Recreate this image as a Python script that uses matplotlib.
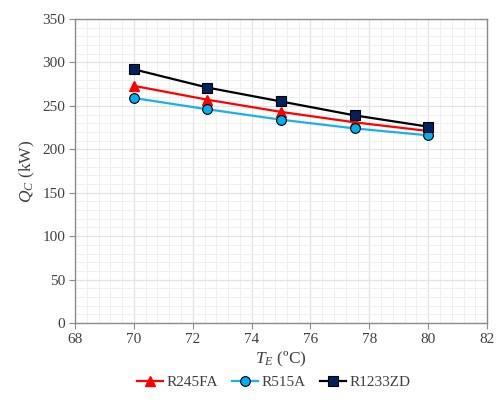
import matplotlib
matplotlib.use("Agg")
import matplotlib.pyplot as plt
from matplotlib.ticker import MultipleLocator

plt.rcParams['font.family'] = ['Liberation Serif', 'DejaVu Serif']
plt.rcParams['mathtext.fontset'] = 'custom'
plt.rcParams['mathtext.rm'] = 'Liberation Serif'
plt.rcParams['mathtext.it'] = 'Liberation Serif:italic'

T_E = [70, 72.5, 75, 77.5, 80]
R245FA = [273, 257, 243, 231, 221]
R515A = [259, 246, 234, 224, 216]
R1233ZD = [292, 271, 255, 239, 226]

fig = plt.figure(figsize=(4.97, 4.03), dpi=100)
ax = fig.add_axes([0.151, 0.1985, 0.829, 0.7545])

ax.plot(T_E, R245FA, color='#ff0000', lw=1.6, marker='^', ms=7,
        mfc='#ff0000', mec='#ff0000', label='R245FA', zorder=3)
ax.plot(T_E, R515A, color='#1ab0f0', lw=1.6, marker='o', ms=7,
        mfc='#00b0f0', mec='#000000', mew=0.8, label='R515A', zorder=3)
ax.plot(T_E, R1233ZD, color='#000000', lw=1.6, marker='s', ms=7,
        mfc='#002060', mec='#000000', mew=0.8, label='R1233ZD', zorder=4)

ax.set_xlim(68, 82)
ax.set_ylim(0, 350)
ax.xaxis.set_major_locator(MultipleLocator(2))
ax.xaxis.set_minor_locator(MultipleLocator(0.4))
ax.yaxis.set_major_locator(MultipleLocator(50))
ax.yaxis.set_minor_locator(MultipleLocator(10))
ax.grid(which='major', color='#e3e3e3', lw=0.9, zorder=0)
ax.grid(which='minor', color='#f0f0f0', lw=0.7, zorder=0)
ax.set_axisbelow(True)
for s in ax.spines.values():
    s.set_color('#8c8c8c')
    s.set_linewidth(1.0)
ax.tick_params(which='major', direction='out', length=4, color='#8c8c8c',
               labelsize=11, labelcolor='#404040', pad=3)
ax.tick_params(which='minor', length=0)

ax.set_xlabel(r'$T_E$ (ºC)', fontsize=12.5, color='#404040', labelpad=3)
ax.set_ylabel(r'$Q_C$ (kW)', fontsize=12.5, color='#404040', labelpad=4)

fig.legend(loc='lower center', bbox_to_anchor=(0.551, 0.0), ncol=3, frameon=False,
           fontsize=11, handlelength=1.7, columnspacing=0.9, handletextpad=0.25,
           labelcolor='#404040')

fig.savefig('out.png', dpi=100)
